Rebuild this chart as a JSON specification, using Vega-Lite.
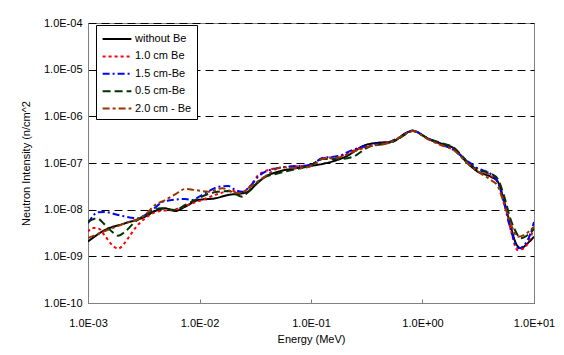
{
  "$schema": "https://vega.github.io/schema/vega-lite/v6.json",
  "width": 446,
  "height": 280,
  "autosize": {"type": "none"},
  "padding": {"left": 88, "top": 23, "right": 30, "bottom": 52},
  "background": "white",
  "config": {
    "view": {"stroke": "#808080", "strokeWidth": 1},
    "font": "Liberation Sans",
    "legend": {
      "orient": "none", "legendX": 8, "legendY": 2,
      "strokeColor": "black", "fillColor": "white", "padding": 5,
      "symbolType": "M-1.8,0H1.8", "symbolSize": 256, "symbolStrokeWidth": 2,
      "symbolOffset": 7, "labelOffset": 9,
      "labelFontSize": 11, "labelColor": "black", "labelFont": "Liberation Sans",
      "rowPadding": 3.4
    }
  },
  "datasets": {
    "d": [
      {"s":"without Be","e":0.001,"i":2.08e-9},
      {"s":"without Be","e":0.001422,"i":3.67e-9},
      {"s":"without Be","e":0.002148,"i":5.11e-9},
      {"s":"without Be","e":0.003251,"i":7.08e-9},
      {"s":"without Be","e":0.004,"i":9.38e-9},
      {"s":"without Be","e":0.00492,"i":1.07e-8},
      {"s":"without Be","e":0.006053,"i":9.38e-9},
      {"s":"without Be","e":0.007447,"i":1.16e-8},
      {"s":"without Be","e":0.009727,"i":1.61e-8},
      {"s":"without Be","e":0.01384,"i":1.75e-8},
      {"s":"without Be","e":0.01811,"i":2.07e-8},
      {"s":"without Be","e":0.02421,"i":2.24e-8},
      {"s":"without Be","e":0.02742,"i":2.43e-8},
      {"s":"without Be","e":0.0317,"i":3.38e-8},
      {"s":"without Be","e":0.03899,"i":5.09e-8},
      {"s":"without Be","e":0.05093,"i":6.52e-8},
      {"s":"without Be","e":0.07244,"i":7.71e-8},
      {"s":"without Be","e":0.09886,"i":8.63e-8},
      {"s":"without Be","e":0.1346,"i":9.86e-8},
      {"s":"without Be","e":0.2037,"i":1.36e-7},
      {"s":"without Be","e":0.3083,"i":2.43e-7},
      {"s":"without Be","e":0.4036,"i":2.72e-7},
      {"s":"without Be","e":0.5383,"i":2.86e-7},
      {"s":"without Be","e":0.7047,"i":4.34e-7},
      {"s":"without Be","e":0.8147,"i":4.92e-7},
      {"s":"without Be","e":0.9616,"i":4.19e-7},
      {"s":"without Be","e":1.112,"i":3.38e-7},
      {"s":"without Be","e":1.455,"i":2.64e-7},
      {"s":"without Be","e":1.901,"i":2.07e-7},
      {"s":"without Be","e":2.541,"i":9.86e-8},
      {"s":"without Be","e":3.126,"i":6.52e-8},
      {"s":"without Be","e":4.093,"i":5.09e-8},
      {"s":"without Be","e":4.732,"i":3.98e-8},
      {"s":"without Be","e":5.358,"i":1.61e-8},
      {"s":"without Be","e":6.194,"i":4.32e-9},
      {"s":"without Be","e":6.871,"i":1.91e-9},
      {"s":"without Be","e":7.603,"i":1.49e-9},
      {"s":"without Be","e":8.79,"i":1.91e-9},
      {"s":"without Be","e":10,"i":2.64e-9},

      {"s":"1.0 cm Be","e":0.001,"i":3.37e-9},
      {"s":"1.0 cm Be","e":0.001086,"i":4.05e-9},
      {"s":"1.0 cm Be","e":0.00123,"i":3.99e-9},
      {"s":"1.0 cm Be","e":0.001422,"i":2.73e-9},
      {"s":"1.0 cm Be","e":0.001644,"i":1.75e-9},
      {"s":"1.0 cm Be","e":0.001862,"i":1.47e-9},
      {"s":"1.0 cm Be","e":0.002286,"i":2.44e-9},
      {"s":"1.0 cm Be","e":0.002642,"i":3.99e-9},
      {"s":"1.0 cm Be","e":0.003251,"i":6.53e-9},
      {"s":"1.0 cm Be","e":0.004436,"i":9.38e-9},
      {"s":"1.0 cm Be","e":0.005689,"i":9.84e-9},
      {"s":"1.0 cm Be","e":0.007447,"i":1.2e-8},
      {"s":"1.0 cm Be","e":0.00859,"i":1.37e-8},
      {"s":"1.0 cm Be","e":0.01057,"i":1.61e-8},
      {"s":"1.0 cm Be","e":0.01384,"i":2.07e-8},
      {"s":"1.0 cm Be","e":0.01888,"i":2.51e-8},
      {"s":"1.0 cm Be","e":0.02421,"i":2.39e-8},
      {"s":"1.0 cm Be","e":0.02979,"i":3.67e-8},
      {"s":"1.0 cm Be","e":0.03373,"i":5.53e-8},
      {"s":"1.0 cm Be","e":0.04498,"i":7.45e-8},
      {"s":"1.0 cm Be","e":0.06531,"i":8.34e-8},
      {"s":"1.0 cm Be","e":0.09886,"i":9.06e-8},
      {"s":"1.0 cm Be","e":0.1265,"i":1.26e-7},
      {"s":"1.0 cm Be","e":0.1762,"i":1.36e-7},
      {"s":"1.0 cm Be","e":0.2355,"i":1.81e-7},
      {"s":"1.0 cm Be","e":0.3281,"i":2.31e-7},
      {"s":"1.0 cm Be","e":0.4955,"i":2.78e-7},
      {"s":"1.0 cm Be","e":0.6353,"i":3.61e-7},
      {"s":"1.0 cm Be","e":0.8147,"i":4.85e-7},
      {"s":"1.0 cm Be","e":1.112,"i":3.38e-7},
      {"s":"1.0 cm Be","e":1.455,"i":2.49e-7},
      {"s":"1.0 cm Be","e":1.901,"i":2.0e-7},
      {"s":"1.0 cm Be","e":2.541,"i":1.05e-7},
      {"s":"1.0 cm Be","e":3.126,"i":7.45e-8},
      {"s":"1.0 cm Be","e":4.093,"i":5.4e-8},
      {"s":"1.0 cm Be","e":4.732,"i":3.92e-8},
      {"s":"1.0 cm Be","e":5.358,"i":1.61e-8},
      {"s":"1.0 cm Be","e":6.194,"i":3.67e-9},
      {"s":"1.0 cm Be","e":7.112,"i":1.37e-9},
      {"s":"1.0 cm Be","e":8.091,"i":1.49e-9},
      {"s":"1.0 cm Be","e":10,"i":4.05e-9},

      {"s":"1.5 cm-Be","e":0.001,"i":5.11e-9},
      {"s":"1.5 cm-Be","e":0.00123,"i":8.79e-9},
      {"s":"1.5 cm-Be","e":0.001422,"i":8.91e-9},
      {"s":"1.5 cm-Be","e":0.001862,"i":7.69e-9},
      {"s":"1.5 cm-Be","e":0.002812,"i":6.53e-9},
      {"s":"1.5 cm-Be","e":0.003251,"i":7.69e-9},
      {"s":"1.5 cm-Be","e":0.003758,"i":9.84e-9},
      {"s":"1.5 cm-Be","e":0.00492,"i":1.53e-8},
      {"s":"1.5 cm-Be","e":0.007447,"i":1.69e-8},
      {"s":"1.5 cm-Be","e":0.00859,"i":1.61e-8},
      {"s":"1.5 cm-Be","e":0.01014,"i":1.96e-8},
      {"s":"1.5 cm-Be","e":0.01247,"i":2.58e-8},
      {"s":"1.5 cm-Be","e":0.01472,"i":3.1e-8},
      {"s":"1.5 cm-Be","e":0.01811,"i":3.21e-8},
      {"s":"1.5 cm-Be","e":0.02094,"i":2.64e-8},
      {"s":"1.5 cm-Be","e":0.02421,"i":2.43e-8},
      {"s":"1.5 cm-Be","e":0.02858,"i":3.21e-8},
      {"s":"1.5 cm-Be","e":0.03373,"i":5.09e-8},
      {"s":"1.5 cm-Be","e":0.03899,"i":6.52e-8},
      {"s":"1.5 cm-Be","e":0.04498,"i":7.33e-8},
      {"s":"1.5 cm-Be","e":0.06266,"i":8.34e-8},
      {"s":"1.5 cm-Be","e":0.09886,"i":9.06e-8},
      {"s":"1.5 cm-Be","e":0.1265,"i":1.28e-7},
      {"s":"1.5 cm-Be","e":0.1762,"i":1.41e-7},
      {"s":"1.5 cm-Be","e":0.2355,"i":1.9e-7},
      {"s":"1.5 cm-Be","e":0.3281,"i":2.37e-7},
      {"s":"1.5 cm-Be","e":0.4955,"i":2.78e-7},
      {"s":"1.5 cm-Be","e":0.6353,"i":3.61e-7},
      {"s":"1.5 cm-Be","e":0.8147,"i":4.97e-7},
      {"s":"1.5 cm-Be","e":1.112,"i":3.38e-7},
      {"s":"1.5 cm-Be","e":1.455,"i":2.55e-7},
      {"s":"1.5 cm-Be","e":1.901,"i":1.9e-7},
      {"s":"1.5 cm-Be","e":2.541,"i":1.1e-7},
      {"s":"1.5 cm-Be","e":3.126,"i":7.71e-8},
      {"s":"1.5 cm-Be","e":4.093,"i":5.81e-8},
      {"s":"1.5 cm-Be","e":4.732,"i":3.92e-8},
      {"s":"1.5 cm-Be","e":5.358,"i":1.46e-8},
      {"s":"1.5 cm-Be","e":6.194,"i":3.67e-9},
      {"s":"1.5 cm-Be","e":7.295,"i":1.49e-9},
      {"s":"1.5 cm-Be","e":8.79,"i":2.24e-9},
      {"s":"1.5 cm-Be","e":10,"i":5.45e-9},

      {"s":"0.5 cm-Be","e":0.001,"i":5.52e-9},
      {"s":"0.5 cm-Be","e":0.001205,"i":6.53e-9},
      {"s":"0.5 cm-Be","e":0.001422,"i":4.7e-9},
      {"s":"0.5 cm-Be","e":0.001644,"i":3.37e-9},
      {"s":"0.5 cm-Be","e":0.001862,"i":2.77e-9},
      {"s":"0.5 cm-Be","e":0.002148,"i":3.37e-9},
      {"s":"0.5 cm-Be","e":0.002642,"i":5.52e-9},
      {"s":"0.5 cm-Be","e":0.003758,"i":9.06e-9},
      {"s":"0.5 cm-Be","e":0.004436,"i":1.07e-8},
      {"s":"0.5 cm-Be","e":0.006053,"i":9.84e-9},
      {"s":"0.5 cm-Be","e":0.007447,"i":1.26e-8},
      {"s":"0.5 cm-Be","e":0.009141,"i":1.61e-8},
      {"s":"0.5 cm-Be","e":0.01247,"i":2.24e-8},
      {"s":"0.5 cm-Be","e":0.01811,"i":2.51e-8},
      {"s":"0.5 cm-Be","e":0.02421,"i":1.9e-8},
      {"s":"0.5 cm-Be","e":0.02742,"i":2.43e-8},
      {"s":"0.5 cm-Be","e":0.03656,"i":4.7e-8},
      {"s":"0.5 cm-Be","e":0.05093,"i":6.01e-8},
      {"s":"0.5 cm-Be","e":0.07244,"i":7.33e-8},
      {"s":"0.5 cm-Be","e":0.09886,"i":8.85e-8},
      {"s":"0.5 cm-Be","e":0.1265,"i":1.22e-7},
      {"s":"0.5 cm-Be","e":0.1762,"i":1.22e-7},
      {"s":"0.5 cm-Be","e":0.2355,"i":1.35e-7},
      {"s":"0.5 cm-Be","e":0.3281,"i":2.2e-7},
      {"s":"0.5 cm-Be","e":0.4955,"i":2.69e-7},
      {"s":"0.5 cm-Be","e":0.6353,"i":3.52e-7},
      {"s":"0.5 cm-Be","e":0.8147,"i":4.85e-7},
      {"s":"0.5 cm-Be","e":1.112,"i":3.38e-7},
      {"s":"0.5 cm-Be","e":1.455,"i":2.69e-7},
      {"s":"0.5 cm-Be","e":1.901,"i":2.15e-7},
      {"s":"0.5 cm-Be","e":2.541,"i":1.05e-7},
      {"s":"0.5 cm-Be","e":3.126,"i":7.08e-8},
      {"s":"0.5 cm-Be","e":4.093,"i":5.96e-8},
      {"s":"0.5 cm-Be","e":4.732,"i":4.54e-8},
      {"s":"0.5 cm-Be","e":5.358,"i":2.06e-8},
      {"s":"0.5 cm-Be","e":6.194,"i":6.01e-9},
      {"s":"0.5 cm-Be","e":6.871,"i":3.37e-9},
      {"s":"0.5 cm-Be","e":7.603,"i":2.44e-9},
      {"s":"0.5 cm-Be","e":8.79,"i":2.86e-9},
      {"s":"0.5 cm-Be","e":10,"i":3.85e-9},

      {"s":"2.0 cm - Be","e":0.001,"i":2.47e-9},
      {"s":"2.0 cm - Be","e":0.001422,"i":3.49e-9},
      {"s":"2.0 cm - Be","e":0.002148,"i":5.11e-9},
      {"s":"2.0 cm - Be","e":0.003251,"i":7.69e-9},
      {"s":"2.0 cm - Be","e":0.004,"i":1.26e-8},
      {"s":"2.0 cm - Be","e":0.00492,"i":1.61e-8},
      {"s":"2.0 cm - Be","e":0.006053,"i":2.13e-8},
      {"s":"2.0 cm - Be","e":0.007447,"i":2.77e-8},
      {"s":"2.0 cm - Be","e":0.009141,"i":2.64e-8},
      {"s":"2.0 cm - Be","e":0.01197,"i":2.43e-8},
      {"s":"2.0 cm - Be","e":0.016,"i":2.87e-8},
      {"s":"2.0 cm - Be","e":0.01968,"i":2.43e-8},
      {"s":"2.0 cm - Be","e":0.02323,"i":2.24e-8},
      {"s":"2.0 cm - Be","e":0.02742,"i":2.87e-8},
      {"s":"2.0 cm - Be","e":0.03656,"i":4.7e-8},
      {"s":"2.0 cm - Be","e":0.05534,"i":8.09e-8},
      {"s":"2.0 cm - Be","e":0.07709,"i":7.71e-8},
      {"s":"2.0 cm - Be","e":0.103,"i":8.85e-8},
      {"s":"2.0 cm - Be","e":0.1265,"i":1.22e-7},
      {"s":"2.0 cm - Be","e":0.1762,"i":1.31e-7},
      {"s":"2.0 cm - Be","e":0.2355,"i":1.72e-7},
      {"s":"2.0 cm - Be","e":0.3281,"i":2.26e-7},
      {"s":"2.0 cm - Be","e":0.4955,"i":2.69e-7},
      {"s":"2.0 cm - Be","e":0.6353,"i":3.61e-7},
      {"s":"2.0 cm - Be","e":0.8147,"i":4.85e-7},
      {"s":"2.0 cm - Be","e":1.112,"i":3.27e-7},
      {"s":"2.0 cm - Be","e":1.455,"i":2.43e-7},
      {"s":"2.0 cm - Be","e":1.901,"i":1.9e-7},
      {"s":"2.0 cm - Be","e":2.541,"i":9.77e-8},
      {"s":"2.0 cm - Be","e":3.327,"i":6.01e-8},
      {"s":"2.0 cm - Be","e":4.093,"i":4.33e-8},
      {"s":"2.0 cm - Be","e":4.732,"i":3.21e-8},
      {"s":"2.0 cm - Be","e":5.358,"i":1.39e-8},
      {"s":"2.0 cm - Be","e":6.194,"i":4.93e-9},
      {"s":"2.0 cm - Be","e":7.112,"i":2.64e-9},
      {"s":"2.0 cm - Be","e":8.091,"i":2.86e-9},
      {"s":"2.0 cm - Be","e":10,"i":4.32e-9}
    ]
  },
  "data": {"name": "d"},
  "mark": {"type": "line", "interpolate": "monotone", "strokeWidth": 2, "clip": true},
  "encoding": {
    "x": {
      "field": "e", "type": "quantitative",
      "scale": {"type": "log", "domain": [0.001, 10], "nice": false},
      "axis": {
        "values": [0.001, 0.01, 0.1, 1, 10],
        "title": "Energy (MeV)", "grid": false,
        "labelExpr": "'1.0E' + (round(log(datum.value)/LN10) < 0 ? '-' : '+') + (abs(round(log(datum.value)/LN10)) < 10 ? '0' : '') + abs(round(log(datum.value)/LN10))",
        "domainColor": "#808080", "tickColor": "#808080", "tickSize": -4,
        "labelPadding": 18, "labelFontSize": 11, "labelColor": "black", "labelFont": "Liberation Sans",
        "titleFontSize": 11, "titleFontWeight": "normal", "titleColor": "black", "titleFont": "Liberation Sans",
        "titlePadding": 5, "labelFlush": false, "labelOverlap": false
      }
    },
    "y": {
      "field": "i", "type": "quantitative",
      "scale": {"type": "log", "domain": [1e-10, 1e-4], "nice": false},
      "axis": {
        "values": [1e-10, 1e-9, 1e-8, 1e-7, 1e-6, 1e-5, 1e-4],
        "title": "Neutron Intensity (n/cm^2",
        "labelExpr": "'1.0E' + (round(log(datum.value)/LN10) < 0 ? '-' : '+') + (abs(round(log(datum.value)/LN10)) < 10 ? '0' : '') + abs(round(log(datum.value)/LN10))",
        "grid": true, "gridColor": "black", "gridDash": [8, 5], "gridOpacity": 1, "gridWidth": 1,
        "domainColor": "#808080", "ticks": false,
        "labelPadding": 6, "labelFontSize": 11, "labelColor": "black", "labelFont": "Liberation Sans",
        "titleFontSize": 11, "titleFontWeight": "normal", "titleColor": "black", "titleFont": "Liberation Sans",
        "titlePadding": 12, "labelFlush": false, "labelOverlap": false
      }
    },
    "color": {
      "field": "s", "type": "nominal",
      "scale": {
        "domain": ["without Be", "1.0 cm Be", "1.5 cm-Be", "0.5 cm-Be", "2.0 cm - Be"],
        "range": ["#000000", "#FF0000", "#0000FF", "#003300", "#993300"]
      },
      "legend": {"title": null}
    },
    "strokeDash": {
      "field": "s", "type": "nominal",
      "scale": {
        "domain": ["without Be", "1.0 cm Be", "1.5 cm-Be", "0.5 cm-Be", "2.0 cm - Be"],
        "range": [[1, 0], [3, 3], [7, 3, 2, 3], [8, 4], [7, 3, 3, 3]]
      },
      "legend": {"title": null}
    }
  }
}
